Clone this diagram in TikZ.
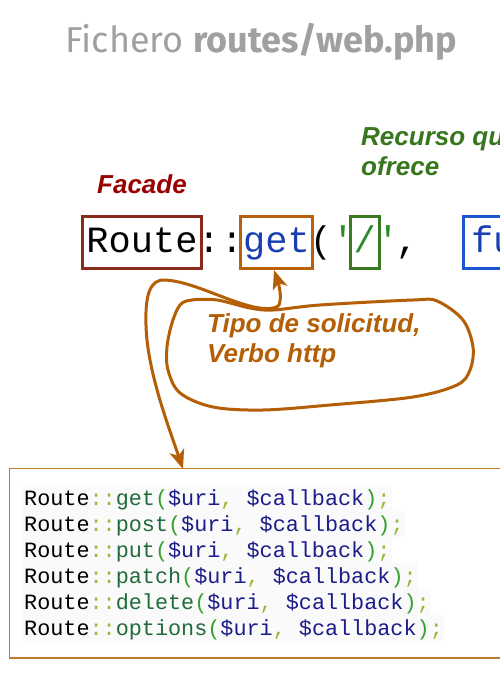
\documentclass[tikz,border=0pt]{standalone}
\usepackage{fontspec}
\usetikzlibrary{arrows.meta}
\newfontfamily\lsans{Liberation Sans}
\newfontfamily\lmono{Liberation Mono}
\newfontfamily\titlefont{Fira Sans}
\definecolor{titlegray}{HTML}{A0A0A0}
\definecolor{facadec}{HTML}{990000}
\definecolor{recc}{HTML}{38761D}
\definecolor{tipoc}{HTML}{B45F06}
\definecolor{routeb}{HTML}{8A2A1A}
\definecolor{getb}{HTML}{B8600A}
\definecolor{slashb}{HTML}{3A7A22}
\definecolor{fub}{HTML}{1A56D0}
\definecolor{blutxt}{HTML}{1A40B0}
\definecolor{grntxt}{HTML}{2A8A2A}
\definecolor{codeframe}{HTML}{C07A30}
\definecolor{codebg}{HTML}{FAFAFA}
\definecolor{csep}{HTML}{A0B43A}
\definecolor{cmeth}{HTML}{1F6B3A}
\definecolor{cpar}{HTML}{35A030}
\definecolor{cvar}{HTML}{1C1C8A}
\newcommand\codeln[1]{\textcolor{black}{Route}\textcolor{csep}{::}\textcolor{cmeth}{#1}\textcolor{cpar}{(}\textcolor{cvar}{\$uri}\textcolor{csep}{,} \textcolor{cvar}{\$callback}\textcolor{cpar}{)}\textcolor{csep}{;}}
\tikzset{
  bigcode/.style={font=\lmono\fontsize{37bp}{40bp}\selectfont, inner xsep=0pt, inner ysep=0pt},
  tokbox/.style={bigcode, draw, line width=3bp, text height=28bp, text depth=9bp, inner ysep=7.5bp, minimum height=52bp},
  lbl/.style={font=\lsans\bfseries\itshape\fontsize{26bp}{30bp}\selectfont, inner sep=0pt, align=left},
  codeline/.style={font=\lmono\fontsize{21.8bp}{26bp}\selectfont, fill=codebg, inner xsep=1bp, inner ysep=0pt, text height=20bp, text depth=6bp, anchor=base west},
  conn/.style={draw=tipoc, line width=3bp, {Stealth[length=19bp,width=15bp,inset=5bp]}-{Stealth[length=19bp,width=15bp,inset=5bp]}},
  bubble/.style={draw=tipoc, line width=3bp}
}
\begin{document}
\begin{tikzpicture}[x=1bp,y=-1bp]
\useasboundingbox (0,0) rectangle (500,700);
\clip (0,0) rectangle (500,700);
\fill[white] (0,0) rectangle (500,700);
% title
\node[anchor=base west, inner sep=0pt, text=titlegray, font=\titlefont\fontsize{36bp}{40bp}\selectfont] (title) at (65,53) {Fichero \textbf{routes/web.php}};
% labels
\node[lbl, text=facadec, anchor=base west] (facade) at (97,193) {Facade};
\node[lbl, text=recc, anchor=north west] (recurso) at (361,127.5) {Recurso que\\ofrece};
% code tokens
\node[tokbox, draw=routeb, minimum width=119bp] (routebox) at (142,242.5) {Route};
\node[bigcode, anchor=base] (colon1) at (209,252) {:};
\node[bigcode, anchor=base] (colon2) at (232,252) {:};
\node[tokbox, draw=getb, text=blutxt, minimum width=72bp] (getbox) at (276.5,242.5) {get};
\node[bigcode, anchor=base] (paren) at (321,252) {(};
\node[bigcode, anchor=base, text=grntxt] (quote1) at (343,252) {'};
\node[tokbox, draw=slashb, text=grntxt, minimum width=28.5bp] (slashbox) at (364.8,242.5) {/};
\node[bigcode, anchor=base, text=grntxt] (quote2) at (388,252) {'};
\node[bigcode, anchor=base] (comma) at (407,252) {,};
\node[tokbox, draw=fub, text=blutxt, anchor=west, inner xsep=8bp] (fubox) at (461.5,242.5) {function};
% callout
\node[lbl, text=tipoc, anchor=north west] (tipo) at (207,313) {Tipo de solicitud,\\Verbo http};
\draw[bubble] plot[smooth cycle, tension=0.55] coordinates {(273,310) (320,305) (413,300) (437,301) (463,320) (473,347) (470,370) (457,385) (413,397) (330,405) (263,410) (213,407) (180,393) (168,370) (167,347) (172,323) (180,305) (192,300) (217,300) (250,308)};
% code box
\node[draw=codeframe, line width=1.5bp, anchor=north west, minimum width=520bp, minimum height=189.5bp, inner sep=0pt] (codebox) at (8.75,467.75) {};
\coordinate (tailend) at (183,469);
\node[codeline] (l1) at (23,505) {\codeln{get}};
\node[codeline] (l2) at (23,531) {\codeln{post}};
\node[codeline] (l3) at (23,557) {\codeln{put}};
\node[codeline] (l4) at (23,583) {\codeln{patch}};
\node[codeline] (l5) at (23,609) {\codeln{delete}};
\node[codeline] (l6) at (23,635) {\codeln{options}};
% connector
\draw[conn] ([xshift=-2.5bp]getbox.south) .. controls (279,285) and (282,297) .. (279,305) .. controls (276,309) and (265,310) .. (250,306) .. controls (225,300) and (190,281) .. (165,280) .. controls (150,279) and (145,295) .. (146,325) .. controls (147,370) and (168,425) .. (tailend);
\end{tikzpicture}
\end{document}
